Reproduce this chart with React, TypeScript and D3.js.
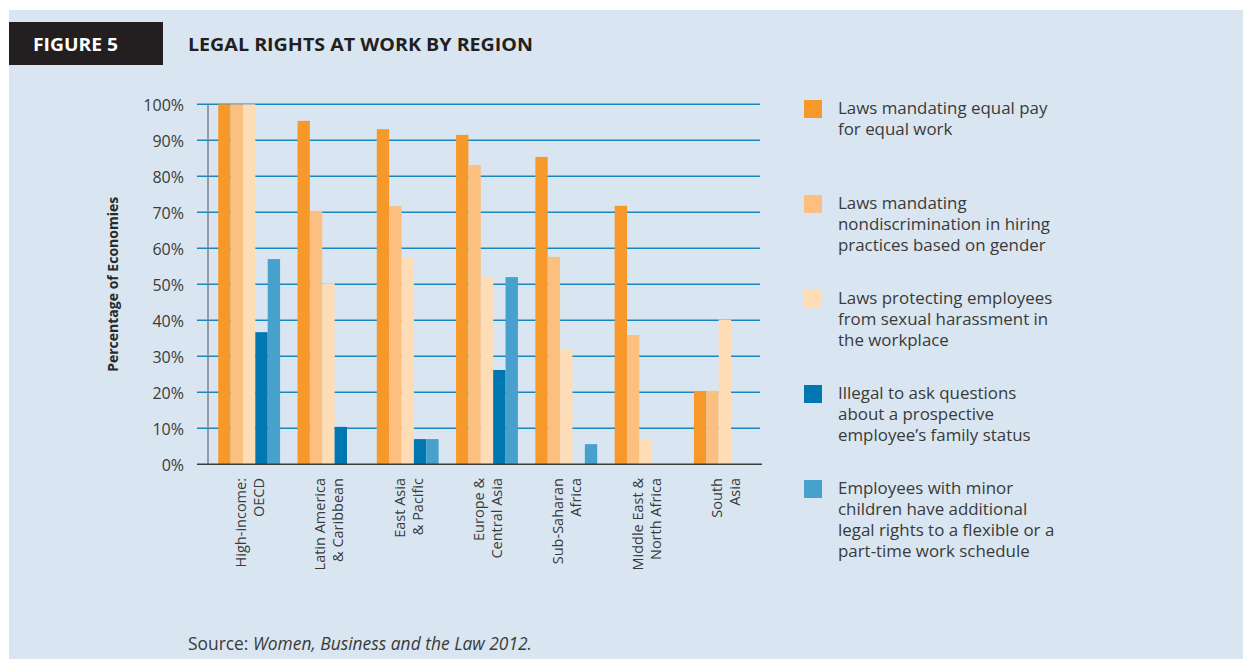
import { useRef, useEffect } from "react";
import * as d3 from "d3";

const regions = [
  ["High-income:", "OECD"],
  ["Latin America", "& Caribbean"],
  ["East Asia", "& Pacific"],
  ["Europe &", "Central Asia"],
  ["Sub-Saharan", "Africa"],
  ["Middle East &", "North Africa"],
  ["South", "Asia"],
];

const equalPay = [100, 95.4, 93.1, 91.5, 85.4, 71.8, 20.1];
const nondiscrimination = [100, 70.4, 71.7, 83.1, 57.6, 35.9, 20.4];
const harassment = [100, 50.3, 57.4, 52.0, 31.8, 7.0, 40.2];
const familyStatus = [36.7, 10.4, 7.0, 26.2, 0, 0, 0];
const flexibleWork = [57.0, 0, 7.0, 52.0, 5.6, 0, 0];

const seriesNames = [
  ["Laws mandating equal pay", "for equal work"],
  ["Laws mandating", "nondiscrimination in hiring", "practices based on gender"],
  ["Laws protecting employees", "from sexual harassment in", "the workplace"],
  ["Illegal to ask questions", "about a prospective", "employee\u2019s family status"],
  ["Employees with minor", "children have additional", "legal rights to a flexible or a", "part-time work schedule"],
];
const seriesColors = ["#f7992a", "#fbbf80", "#fddcb6", "#0077b0", "#48a0cc"];
const yTicks = [0, 10, 20, 30, 40, 50, 60, 70, 80, 90, 100];

const W = 1243;
const H = 659;
const FONT = "'Open Sans', Lato, sans-serif";

export default function App() {
  const svgRef = useRef<SVGSVGElement>(null);

  useEffect(() => {
    document.body.style.margin = "0";
    const svg = svgRef.current;
    if (!svg) return;
    const root = d3.select(svg);
    root.selectAll("*").remove();

    const series = [equalPay, nondiscrimination, harassment, familyStatus, flexibleWork];
    const keys = regions.map((r) => r.join(" "));

    // panel
    root.append("rect").attr("x", 9).attr("y", 10).attr("width", W - 9).attr("height", H - 10).attr("fill", "#d9e6f1");

    // header
    root.append("rect").attr("x", 9).attr("y", 22).attr("width", 154).attr("height", 43).attr("fill", "#231f20");
    root.append("text").attr("x", 33).attr("y", 51).attr("fill", "#fff").attr("font-family", FONT)
      .attr("font-weight", 700).attr("font-size", 18).attr("textLength", 85).attr("lengthAdjust", "spacingAndGlyphs")
      .text("FIGURE 5");
    root.append("text").attr("x", 188).attr("y", 51).attr("fill", "#231f20").attr("font-family", FONT)
      .attr("font-weight", 700).attr("font-size", 18).attr("textLength", 345).attr("lengthAdjust", "spacingAndGlyphs")
      .text("LEGAL RIGHTS AT WORK BY REGION");

    const y = d3.scaleLinear().domain([0, 100]).range([464.3, 104.3]);
    const x0 = d3.scaleBand().domain(keys).range([209.5, 764.5]).paddingInner(0.22).paddingOuter(0.11);
    const x1 = d3.scaleBand<number>().domain(d3.range(series.length)).range([0, x0.bandwidth()]);

    // grid
    root.append("g").selectAll("line").data(yTicks.filter((t) => t > 0)).join("line")
      .attr("x1", 197).attr("x2", 760)
      .attr("y1", (d) => y(d)).attr("y2", (d) => y(d))
      .attr("stroke", "#1a86c1").attr("stroke-width", 1.5);

    // y axis line
    root.append("line").attr("x1", 208).attr("x2", 208).attr("y1", y(100)).attr("y2", y(0))
      .attr("stroke", "#7b828a").attr("stroke-width", 1.5);

    // tick labels
    root.append("g").selectAll("text").data(yTicks).join("text")
      .attr("x", 184).attr("y", (d) => y(d)).attr("dy", "0.4em")
      .attr("text-anchor", "end").attr("font-family", FONT).attr("font-size", 16)
      .attr("fill", "#3a3a3a").text((d) => `${d}%`);

    // y title
    root.append("text").attr("transform", `translate(118,${(y(0) + y(100)) / 2}) rotate(-90)`)
      .attr("text-anchor", "middle").attr("font-family", FONT).attr("font-weight", 700)
      .attr("font-size", 14).attr("fill", "#2a2a2a").text("Percentage of Economies");

    // bars
    keys.forEach((k, gi) => {
      const g = root.append("g").attr("transform", `translate(${x0(k)},0)`);
      g.selectAll("rect").data(series.map((s, si) => ({ si, v: s[gi] })).filter((d) => d.v > 0)).join("rect")
        .attr("x", (d) => x1(d.si)!)
        .attr("width", x1.bandwidth())
        .attr("y", (d) => y(d.v))
        .attr("height", (d) => y(0) - y(d.v))
        .attr("fill", (d) => seriesColors[d.si]);
    });

    // baseline
    root.append("line").attr("x1", 197).attr("x2", 762).attr("y1", y(0)).attr("y2", y(0))
      .attr("stroke", "#3d3d3d").attr("stroke-width", 1.6);

    // x labels
    regions.forEach((lines, gi) => {
      const cx = x0(keys[gi])! + x0.bandwidth() / 2;
      const t = root.append("text").attr("transform", `translate(${cx},478) rotate(-90)`)
        .attr("text-anchor", "end").attr("font-family", FONT).attr("font-size", 14.5).attr("fill", "#3a3a3a");
      lines.forEach((ln, li) => {
        t.append("tspan").attr("x", 0).attr("y", -3 + li * 18).text(ln);
      });
    });

    // legend
    seriesNames.forEach((lines, si) => {
      const top = 100 + si * 95;
      root.append("rect").attr("x", 804).attr("y", top).attr("width", 18).attr("height", 18).attr("fill", seriesColors[si]);
      const t = root.append("text").attr("font-family", FONT).attr("font-size", 16.9).attr("fill", "#3a3a3a");
      lines.forEach((ln, li) => {
        t.append("tspan").attr("x", 838).attr("y", top + 13.5 + li * 21.3).text(ln);
      });
    });

    // source
    const src = root.append("text").attr("x", 188).attr("y", 650).attr("font-family", FONT)
      .attr("font-size", 17.4).attr("fill", "#3a3a3a");
    src.append("tspan").text("Source: ");
    src.append("tspan").attr("font-style", "italic").text("Women, Business and the Law 2012.");
  }, []);

  return <svg ref={svgRef} width={W} height={H} style={{ display: "block", background: "#fff" }} />;
}
